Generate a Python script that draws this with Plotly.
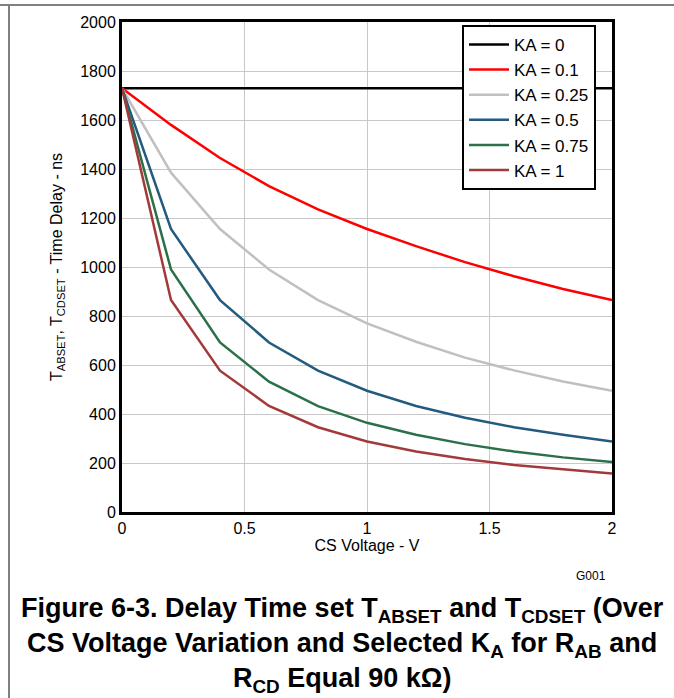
import plotly.graph_objects as go

cs_voltage = [0, 0.2, 0.4, 0.6, 0.8, 1.0, 1.2, 1.4, 1.6, 1.8, 2.0]
ka_0 = [1730, 1730, 1730, 1730, 1730, 1730, 1730, 1730, 1730, 1730, 1730]
ka_01 = [1730, 1580, 1445, 1330, 1235, 1155, 1085, 1020, 962, 910, 865]
ka_025 = [1730, 1385, 1155, 990, 865, 770, 695, 630, 578, 533, 495]
ka_05 = [1730, 1155, 865, 692, 577, 495, 433, 385, 346, 315, 288]
ka_075 = [1730, 990, 692, 532, 432, 364, 315, 277, 247, 223, 204]
ka_1 = [1730, 865, 577, 433, 346, 288, 247, 216, 192, 173, 157]

series = [
    ("KA = 0", ka_0, "#000000"),
    ("KA = 0.1", ka_01, "#ff0000"),
    ("KA = 0.25", ka_025, "#c0c0c0"),
    ("KA = 0.5", ka_05, "#235b7e"),
    ("KA = 0.75", ka_075, "#2b7048"),
    ("KA = 1", ka_1, "#a3393b"),
]

x_ticks = [0, 0.5, 1, 1.5, 2]
x_tick_labels = ["0", "0.5", "1", "1.5", "2"]
y_ticks = [0, 200, 400, 600, 800, 1000, 1200, 1400, 1600, 1800, 2000]

FONT = "Liberation Sans Narrow, Arial Narrow, Liberation Sans, Arial, sans-serif"

fig = go.Figure()
for name, vals, col in series:
    fig.add_trace(go.Scatter(x=cs_voltage, y=vals, mode="lines", name=name,
                             line=dict(color=col, width=2.5)))

fig.update_layout(
    width=674, height=698,
    margin=dict(l=122, r=62, t=22, b=186),
    paper_bgcolor="white", plot_bgcolor="white",
    font=dict(family=FONT, size=15, color="black"),
    showlegend=True,
    legend=dict(x=340 / 490, y=0.994, xanchor="left", yanchor="top",
                bgcolor="white", bordercolor="black", borderwidth=2,
                font=dict(family=FONT, size=17), tracegroupgap=0,
                itemwidth=40),
    xaxis=dict(range=[0, 2], tickvals=x_ticks, ticktext=x_tick_labels,
               showgrid=True, gridcolor="#c8c8c8", gridwidth=1,
               showline=True, linecolor="black", linewidth=3, mirror=True,
               ticks="", zeroline=False,
               tickfont=dict(family=FONT, size=16),
               title=dict(text="CS Voltage - V", font=dict(family=FONT, size=16), standoff=4)),
    yaxis=dict(range=[0, 2000], tickvals=y_ticks,
               showgrid=True, gridcolor="#c8c8c8", gridwidth=1,
               showline=True, linecolor="black", linewidth=3, mirror=True,
               ticks="", zeroline=False,
               tickfont=dict(family=FONT, size=16),
               title=dict(text="T<sub>ABSET</sub>, T<sub>CDSET</sub> - Time Delay - ns",
                          font=dict(family=FONT, size=16), standoff=14)),
)

fig.add_annotation(xref="paper", yref="paper", x=(591 - 122) / 490, y=(512 - 576) / 490,
                   text="G001", showarrow=False, font=dict(family=FONT, size=12),
                   xanchor="center", yanchor="middle")

fig.add_annotation(xref="paper", yref="paper", x=(342 - 122) / 490, y=(512 - 645) / 490,
                   text="<b>Figure 6-3. Delay Time set T<sub>ABSET</sub> and T<sub>CDSET</sub> (Over</b><br>"
                        "<b>CS Voltage Variation and Selected K<sub>A</sub> for R<sub>AB</sub> and</b><br>"
                        "<b>R<sub>CD</sub> Equal 90 kΩ)</b>",
                   showarrow=False, align="center", font=dict(family=FONT, size=27),
                   xanchor="center", yanchor="middle")

fig.add_shape(type="line", xref="paper", yref="paper",
              x0=-122 / 490, x1=560 / 490, y0=507 / 490, y1=507 / 490,
              line=dict(color="#808080", width=2))
fig.add_shape(type="line", xref="paper", yref="paper",
              x0=-113 / 490, x1=-113 / 490, y0=507 / 490, y1=-186 / 490,
              line=dict(color="#808080", width=2))

fig.write_html("out.html", config={"displayModeBar": False},
               post_script="document.body.style.margin='0';document.body.style.overflow='hidden';")
